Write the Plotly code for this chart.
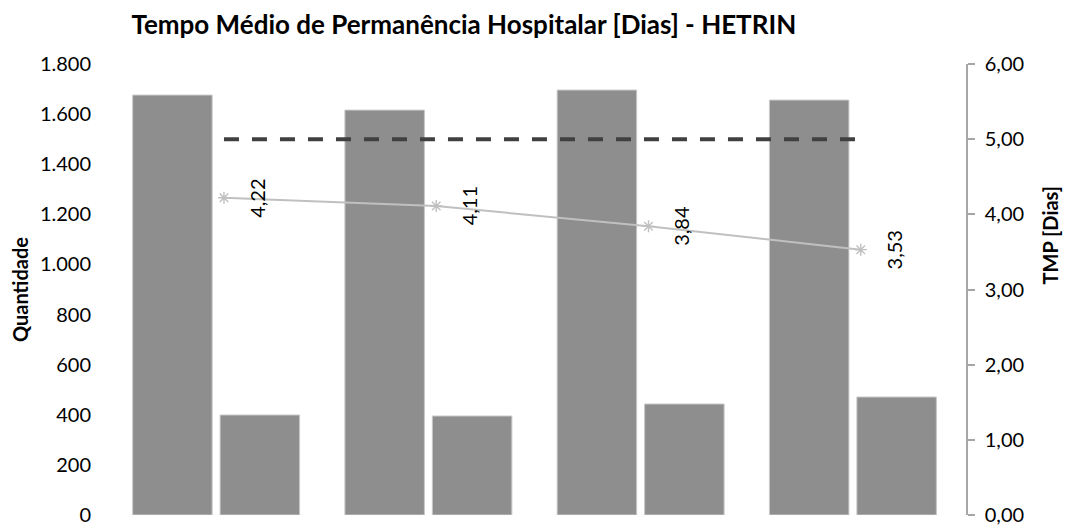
import plotly.graph_objects as go

# periodos (eixo x sem rotulos no original)
periodos = ["P1", "P2", "P3", "P4"]
pacientes_dia = [1676, 1616, 1696, 1656]
saidas = [399, 395, 443, 471]
tmp_dias = [4.22, 4.11, 3.84, 3.53]
meta_tmp = [5.00, 5.00, 5.00, 5.00]

FONT = "Lato"
BAR = "#8e8e8e"

fig = go.Figure()
fig.add_trace(go.Bar(x=periodos, y=pacientes_dia, name="Pacientes-dia",
                     marker=dict(color=BAR, line=dict(color="#c8c8c8", width=1))))
fig.add_trace(go.Bar(x=periodos, y=saidas, name="Saídas",
                     marker=dict(color=BAR, line=dict(color="#c8c8c8", width=1))))
fig.add_trace(go.Scatter(x=periodos, y=meta_tmp, xaxis="x2", yaxis="y2", mode="lines",
                         line=dict(color="#404040", width=4, dash="15px,13px"), name="Meta"))
fig.add_trace(go.Scatter(x=periodos, y=tmp_dias, xaxis="x2", yaxis="y2", mode="lines+markers",
                         line=dict(color="#c0c0c0", width=2),
                         marker=dict(symbol="asterisk-open", size=10,
                                     line=dict(color="#808080", width=1.4)),
                         name="TMP"))

for p, v in zip(periodos, tmp_dias):
    fig.add_annotation(x=p, y=v, xref="x2", yref="y2", text=f"{v:.2f}".replace(".", ","),
                       textangle=-90, showarrow=False, xshift=33,
                       font=dict(family=FONT, size=20, color="#000000"))

# titulo do eixo secundario (fica acima do centro no original)
fig.add_annotation(x=1.097, y=0.62, xref="paper", yref="paper", text="<b>TMP [Dias]</b>",
                   textangle=-90, showarrow=False, xanchor="center", yanchor="middle",
                   font=dict(family=FONT, size=20, color="#000000"))

# a pagina tem margem de 8px no body: figura um pouco menor que a janela
fig.update_layout(
    width=1070, height=518,
    margin=dict(l=102, r=111, t=56, b=11, autoexpand=False),
    paper_bgcolor="white", plot_bgcolor="white",
    separators=",.",
    showlegend=False,
    barmode="group", bargap=0.176, bargroupgap=0.091,
    font=dict(family=FONT, color="#000000"),
    title=dict(text="<b>Tempo Médio de Permanência Hospitalar [Dias] - HETRIN</b>",
               x=0.426, xref="container", xanchor="center",
               y=0.968, yref="container", yanchor="middle",
               font=dict(family=FONT, size=26, color="#000000")),
    xaxis=dict(domain=[0, 0.9907], showticklabels=False, showgrid=False,
               showline=False, zeroline=False, ticks="", automargin=False),
    xaxis2=dict(overlaying="x", range=[-0.5 - 0.037, 3.5 - 0.037], visible=False),
    yaxis=dict(range=[0, 1800], dtick=200, tickformat=",.0f", showgrid=False,
               zeroline=False, showline=False, ticks="", ticklabelstandoff=18,
               automargin=False,
               tickfont=dict(family=FONT, size=20),
               title=dict(text="<b>Quantidade</b>", font=dict(family=FONT, size=20),
                          standoff=10)),
    yaxis2=dict(range=[0, 6], dtick=1, tickformat=".2f", overlaying="y", side="right",
                anchor="free", position=1.0, showgrid=False, zeroline=False,
                showline=True, linecolor="#a6a6a6", linewidth=1.5,
                ticks="outside", ticklen=7, tickcolor="#a6a6a6", tickwidth=1.5,
                ticklabelstandoff=6, automargin=False,
                tickfont=dict(family=FONT, size=20)),
)

fig.write_html("out.html")
